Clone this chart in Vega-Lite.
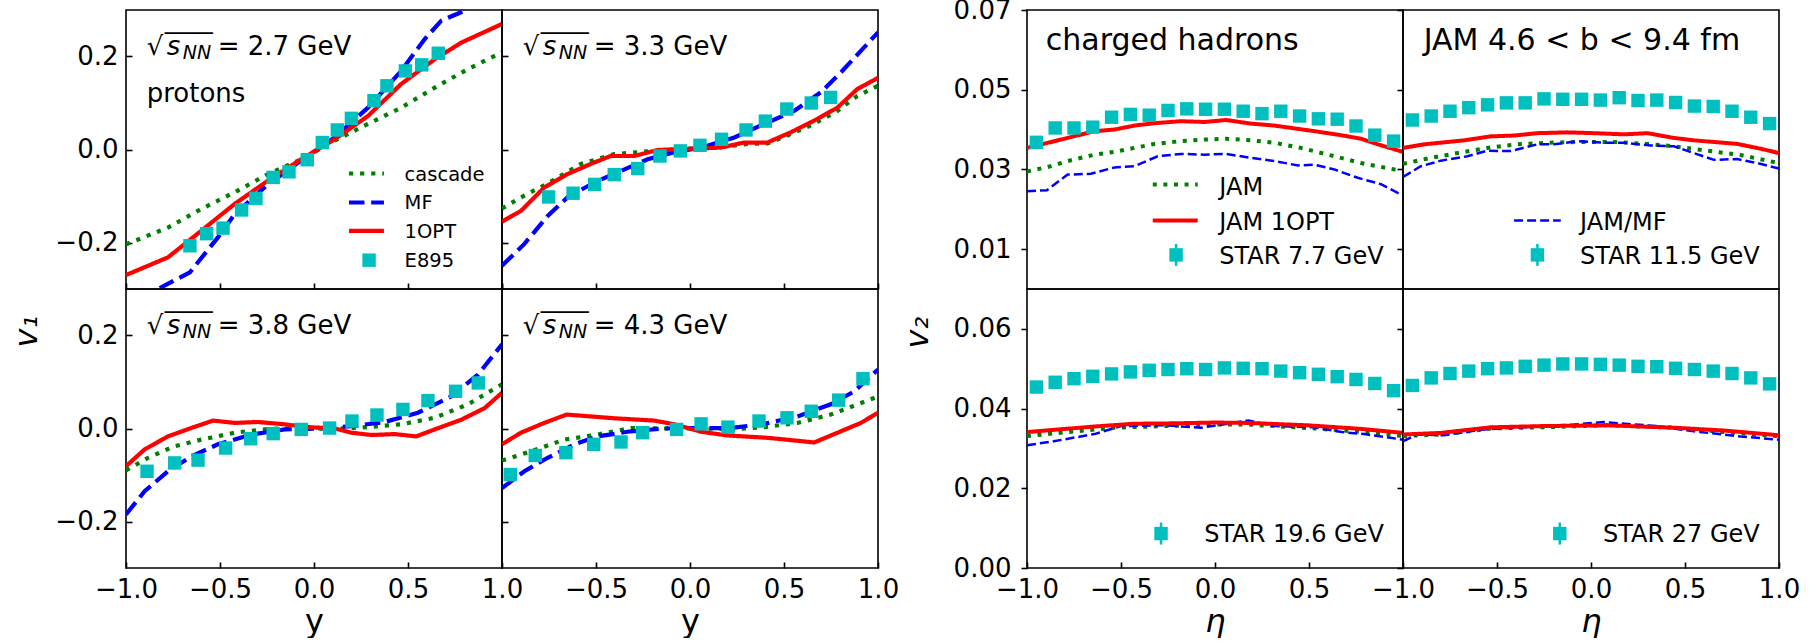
{
"$schema": "https://vega.github.io/schema/vega-lite/v6.json",
"background": "white",
"padding": {"left": 9, "top": -4, "right": 10, "bottom": 0},
"config": {
 "view": {"stroke": "black", "strokeWidth": 1.6},
 "axis": {"grid": false, "domain": false, "labelFlush": false, "labelOverlap": false, "tickColor": "black", "tickWidth": 1.6, "labelColor": "black", "labelFont": "DejaVu Sans", "labelFontSize": 26, "titleFont": "DejaVu Sans", "titleFontSize": 32, "titleFontWeight": "normal", "titleColor": "black", "titlePadding": 4},
 "text": {"font": "DejaVu Sans"}
},
"datasets": {
 "curves": [
  {"p":"2.7","s":"cascade","x":-1,"y":-0.204},{"p":"2.7","s":"cascade","x":-0.777,"y":-0.168},{"p":"2.7","s":"cascade","x":-0.6,"y":-0.128},{"p":"2.7","s":"cascade","x":-0.422,"y":-0.092},{"p":"2.7","s":"cascade","x":-0.245,"y":-0.053},{"p":"2.7","s":"cascade","x":-0.068,"y":-0.021},{"p":"2.7","s":"cascade","x":0.11,"y":0.019},{"p":"2.7","s":"cascade","x":0.287,"y":0.055},{"p":"2.7","s":"cascade","x":0.464,"y":0.09},{"p":"2.7","s":"cascade","x":0.642,"y":0.133},{"p":"2.7","s":"cascade","x":0.819,"y":0.173},{"p":"2.7","s":"cascade","x":1,"y":0.209},
  {"p":"2.7","s":"MF","x":-1,"y":-0.36},{"p":"2.7","s":"MF","x":-0.83,"y":-0.3},{"p":"2.7","s":"MF","x":-0.66,"y":-0.264},{"p":"2.7","s":"MF","x":-0.511,"y":-0.189},{"p":"2.7","s":"MF","x":-0.422,"y":-0.139},{"p":"2.7","s":"MF","x":-0.245,"y":-0.075},{"p":"2.7","s":"MF","x":-0.068,"y":-0.024},{"p":"2.7","s":"MF","x":0.11,"y":0.026},{"p":"2.7","s":"MF","x":0.287,"y":0.09},{"p":"2.7","s":"MF","x":0.464,"y":0.169},{"p":"2.7","s":"MF","x":0.588,"y":0.237},{"p":"2.7","s":"MF","x":0.677,"y":0.277},{"p":"2.7","s":"MF","x":0.81,"y":0.3},{"p":"2.7","s":"MF","x":1,"y":0.34},
  {"p":"2.7","s":"1OPT","x":-1,"y":-0.27},{"p":"2.7","s":"1OPT","x":-0.777,"y":-0.232},{"p":"2.7","s":"1OPT","x":-0.6,"y":-0.175},{"p":"2.7","s":"1OPT","x":-0.422,"y":-0.117},{"p":"2.7","s":"1OPT","x":-0.245,"y":-0.067},{"p":"2.7","s":"1OPT","x":-0.068,"y":-0.021},{"p":"2.7","s":"1OPT","x":0.11,"y":0.022},{"p":"2.7","s":"1OPT","x":0.287,"y":0.072},{"p":"2.7","s":"1OPT","x":0.464,"y":0.141},{"p":"2.7","s":"1OPT","x":0.642,"y":0.194},{"p":"2.7","s":"1OPT","x":0.784,"y":0.23},{"p":"2.7","s":"1OPT","x":1,"y":0.27},
  {"p":"3.3","s":"cascade","x":-1,"y":-0.127},{"p":"3.3","s":"cascade","x":-0.899,"y":-0.103},{"p":"3.3","s":"cascade","x":-0.757,"y":-0.073},{"p":"3.3","s":"cascade","x":-0.58,"y":-0.031},{"p":"3.3","s":"cascade","x":-0.403,"y":-0.01},{"p":"3.3","s":"cascade","x":-0.225,"y":-0.004},{"p":"3.3","s":"cascade","x":-0.048,"y":0.001},{"p":"3.3","s":"cascade","x":0.129,"y":0.004},{"p":"3.3","s":"cascade","x":0.307,"y":0.012},{"p":"3.3","s":"cascade","x":0.412,"y":0.013},{"p":"3.3","s":"cascade","x":0.518,"y":0.03},{"p":"3.3","s":"cascade","x":0.66,"y":0.055},{"p":"3.3","s":"cascade","x":0.784,"y":0.083},{"p":"3.3","s":"cascade","x":0.89,"y":0.115},{"p":"3.3","s":"cascade","x":1,"y":0.137},
  {"p":"3.3","s":"MF","x":-1,"y":-0.25},{"p":"3.3","s":"MF","x":-0.881,"y":-0.203},{"p":"3.3","s":"MF","x":-0.757,"y":-0.143},{"p":"3.3","s":"MF","x":-0.652,"y":-0.103},{"p":"3.3","s":"MF","x":-0.509,"y":-0.071},{"p":"3.3","s":"MF","x":-0.367,"y":-0.046},{"p":"3.3","s":"MF","x":-0.225,"y":-0.021},{"p":"3.3","s":"MF","x":-0.083,"y":-0.006},{"p":"3.3","s":"MF","x":0.058,"y":0.004},{"p":"3.3","s":"MF","x":0.236,"y":0.026},{"p":"3.3","s":"MF","x":0.395,"y":0.055},{"p":"3.3","s":"MF","x":0.554,"y":0.083},{"p":"3.3","s":"MF","x":0.696,"y":0.123},{"p":"3.3","s":"MF","x":0.803,"y":0.166},{"p":"3.3","s":"MF","x":0.909,"y":0.212},{"p":"3.3","s":"MF","x":1,"y":0.252},
  {"p":"3.3","s":"1OPT","x":-1,"y":-0.155},{"p":"3.3","s":"1OPT","x":-0.899,"y":-0.132},{"p":"3.3","s":"1OPT","x":-0.776,"y":-0.082},{"p":"3.3","s":"1OPT","x":-0.652,"y":-0.053},{"p":"3.3","s":"1OPT","x":-0.528,"y":-0.031},{"p":"3.3","s":"1OPT","x":-0.422,"y":-0.014},{"p":"3.3","s":"1OPT","x":-0.296,"y":-0.014},{"p":"3.3","s":"1OPT","x":-0.172,"y":-0.001},{"p":"3.3","s":"1OPT","x":-0.048,"y":0.001},{"p":"3.3","s":"1OPT","x":0.163,"y":0.004},{"p":"3.3","s":"1OPT","x":0.287,"y":0.015},{"p":"3.3","s":"1OPT","x":0.412,"y":0.015},{"p":"3.3","s":"1OPT","x":0.536,"y":0.037},{"p":"3.3","s":"1OPT","x":0.66,"y":0.062},{"p":"3.3","s":"1OPT","x":0.784,"y":0.09},{"p":"3.3","s":"1OPT","x":0.89,"y":0.13},{"p":"3.3","s":"1OPT","x":1,"y":0.154},
  {"p":"3.8","s":"cascade","x":-1,"y":-0.09},{"p":"3.8","s":"cascade","x":-0.883,"y":-0.063},{"p":"3.8","s":"cascade","x":-0.741,"y":-0.038},{"p":"3.8","s":"cascade","x":-0.6,"y":-0.024},{"p":"3.8","s":"cascade","x":-0.422,"y":-0.009},{"p":"3.8","s":"cascade","x":-0.245,"y":-0.001},{"p":"3.8","s":"cascade","x":-0.068,"y":0.001},{"p":"3.8","s":"cascade","x":0.11,"y":-0.001},{"p":"3.8","s":"cascade","x":0.287,"y":0.003},{"p":"3.8","s":"cascade","x":0.464,"y":0.009},{"p":"3.8","s":"cascade","x":0.642,"y":0.023},{"p":"3.8","s":"cascade","x":0.819,"y":0.052},{"p":"3.8","s":"cascade","x":1,"y":0.095},
  {"p":"3.8","s":"MF","x":-1,"y":-0.185},{"p":"3.8","s":"MF","x":-0.901,"y":-0.135},{"p":"3.8","s":"MF","x":-0.777,"y":-0.092},{"p":"3.8","s":"MF","x":-0.653,"y":-0.06},{"p":"3.8","s":"MF","x":-0.511,"y":-0.034},{"p":"3.8","s":"MF","x":-0.333,"y":-0.013},{"p":"3.8","s":"MF","x":-0.156,"y":-0.002},{"p":"3.8","s":"MF","x":0.021,"y":0.0},{"p":"3.8","s":"MF","x":0.198,"y":0.005},{"p":"3.8","s":"MF","x":0.376,"y":0.014},{"p":"3.8","s":"MF","x":0.553,"y":0.034},{"p":"3.8","s":"MF","x":0.73,"y":0.069},{"p":"3.8","s":"MF","x":0.872,"y":0.116},{"p":"3.8","s":"MF","x":1,"y":0.181},
  {"p":"3.8","s":"1OPT","x":-1,"y":-0.081},{"p":"3.8","s":"1OPT","x":-0.901,"y":-0.045},{"p":"3.8","s":"1OPT","x":-0.777,"y":-0.017},{"p":"3.8","s":"1OPT","x":-0.653,"y":0.001},{"p":"3.8","s":"1OPT","x":-0.537,"y":0.017},{"p":"3.8","s":"1OPT","x":-0.422,"y":0.012},{"p":"3.8","s":"1OPT","x":-0.298,"y":0.014},{"p":"3.8","s":"1OPT","x":-0.156,"y":0.009},{"p":"3.8","s":"1OPT","x":-0.032,"y":0.003},{"p":"3.8","s":"1OPT","x":0.11,"y":0.0},{"p":"3.8","s":"1OPT","x":0.198,"y":-0.009},{"p":"3.8","s":"1OPT","x":0.305,"y":-0.014},{"p":"3.8","s":"1OPT","x":0.429,"y":-0.012},{"p":"3.8","s":"1OPT","x":0.544,"y":-0.017},{"p":"3.8","s":"1OPT","x":0.642,"y":-0.002},{"p":"3.8","s":"1OPT","x":0.784,"y":0.019},{"p":"3.8","s":"1OPT","x":0.908,"y":0.044},{"p":"3.8","s":"1OPT","x":1,"y":0.077},
  {"p":"4.3","s":"cascade","x":-1,"y":-0.069},{"p":"4.3","s":"cascade","x":-0.846,"y":-0.049},{"p":"4.3","s":"cascade","x":-0.669,"y":-0.024},{"p":"4.3","s":"cascade","x":-0.491,"y":-0.013},{"p":"4.3","s":"cascade","x":-0.314,"y":0.001},{"p":"4.3","s":"cascade","x":-0.137,"y":0.0},{"p":"4.3","s":"cascade","x":0.02,"y":0.001},{"p":"4.3","s":"cascade","x":0.218,"y":-0.002},{"p":"4.3","s":"cascade","x":0.395,"y":0.003},{"p":"4.3","s":"cascade","x":0.572,"y":0.012},{"p":"4.3","s":"cascade","x":0.749,"y":0.03},{"p":"4.3","s":"cascade","x":1,"y":0.069},
  {"p":"4.3","s":"MF","x":-1,"y":-0.128},{"p":"4.3","s":"MF","x":-0.881,"y":-0.092},{"p":"4.3","s":"MF","x":-0.757,"y":-0.063},{"p":"4.3","s":"MF","x":-0.615,"y":-0.034},{"p":"4.3","s":"MF","x":-0.491,"y":-0.017},{"p":"4.3","s":"MF","x":-0.314,"y":-0.006},{"p":"4.3","s":"MF","x":-0.137,"y":0.0},{"p":"4.3","s":"MF","x":0.02,"y":0.001},{"p":"4.3","s":"MF","x":0.218,"y":0.001},{"p":"4.3","s":"MF","x":0.395,"y":0.01},{"p":"4.3","s":"MF","x":0.572,"y":0.026},{"p":"4.3","s":"MF","x":0.749,"y":0.052},{"p":"4.3","s":"MF","x":0.874,"y":0.08},{"p":"4.3","s":"MF","x":1,"y":0.127},
  {"p":"4.3","s":"1OPT","x":-1,"y":-0.034},{"p":"4.3","s":"1OPT","x":-0.899,"y":-0.009},{"p":"4.3","s":"1OPT","x":-0.775,"y":0.012},{"p":"4.3","s":"1OPT","x":-0.656,"y":0.03},{"p":"4.3","s":"1OPT","x":-0.403,"y":0.022},{"p":"4.3","s":"1OPT","x":-0.19,"y":0.017},{"p":"4.3","s":"1OPT","x":-0.083,"y":0.009},{"p":"4.3","s":"1OPT","x":0.059,"y":-0.007},{"p":"4.3","s":"1OPT","x":0.2,"y":-0.015},{"p":"4.3","s":"1OPT","x":0.413,"y":-0.02},{"p":"4.3","s":"1OPT","x":0.661,"y":-0.03},{"p":"4.3","s":"1OPT","x":0.785,"y":-0.009},{"p":"4.3","s":"1OPT","x":0.909,"y":0.012},{"p":"4.3","s":"1OPT","x":1,"y":0.034},
  {"p":"7.7","s":"JAM","x":-1,"y":0.0295},{"p":"7.7","s":"JAM","x":-0.89,"y":0.0306},{"p":"7.7","s":"JAM","x":-0.784,"y":0.0321},{"p":"7.7","s":"JAM","x":-0.642,"y":0.0337},{"p":"7.7","s":"JAM","x":-0.535,"y":0.0344},{"p":"7.7","s":"JAM","x":-0.429,"y":0.0354},{"p":"7.7","s":"JAM","x":-0.322,"y":0.0364},{"p":"7.7","s":"JAM","x":-0.181,"y":0.0371},{"p":"7.7","s":"JAM","x":-0.057,"y":0.0375},{"p":"7.7","s":"JAM","x":0.059,"y":0.0377},{"p":"7.7","s":"JAM","x":0.191,"y":0.0373},{"p":"7.7","s":"JAM","x":0.316,"y":0.0367},{"p":"7.7","s":"JAM","x":0.457,"y":0.0354},{"p":"7.7","s":"JAM","x":0.635,"y":0.0333},{"p":"7.7","s":"JAM","x":0.777,"y":0.0316},{"p":"7.7","s":"JAM","x":0.954,"y":0.03},{"p":"7.7","s":"JAM","x":1,"y":0.0297},
  {"p":"7.7","s":"JAM/MF","x":-1,"y":0.0245},{"p":"7.7","s":"JAM/MF","x":-0.894,"y":0.0248},{"p":"7.7","s":"JAM/MF","x":-0.784,"y":0.0287},{"p":"7.7","s":"JAM/MF","x":-0.66,"y":0.0289},{"p":"7.7","s":"JAM/MF","x":-0.535,"y":0.0305},{"p":"7.7","s":"JAM/MF","x":-0.429,"y":0.0308},{"p":"7.7","s":"JAM/MF","x":-0.305,"y":0.0333},{"p":"7.7","s":"JAM/MF","x":-0.181,"y":0.0339},{"p":"7.7","s":"JAM/MF","x":-0.057,"y":0.0337},{"p":"7.7","s":"JAM/MF","x":0.059,"y":0.0339},{"p":"7.7","s":"JAM/MF","x":0.191,"y":0.0329},{"p":"7.7","s":"JAM/MF","x":0.316,"y":0.0321},{"p":"7.7","s":"JAM/MF","x":0.441,"y":0.031},{"p":"7.7","s":"JAM/MF","x":0.529,"y":0.0312},{"p":"7.7","s":"JAM/MF","x":0.635,"y":0.03},{"p":"7.7","s":"JAM/MF","x":0.759,"y":0.0279},{"p":"7.7","s":"JAM/MF","x":0.883,"y":0.0263},{"p":"7.7","s":"JAM/MF","x":0.972,"y":0.0241},{"p":"7.7","s":"JAM/MF","x":1,"y":0.0235},
  {"p":"7.7","s":"JAM 1OPT","x":-1,"y":0.0354},{"p":"7.7","s":"JAM 1OPT","x":-0.784,"y":0.0379},{"p":"7.7","s":"JAM 1OPT","x":-0.642,"y":0.0396},{"p":"7.7","s":"JAM 1OPT","x":-0.535,"y":0.04},{"p":"7.7","s":"JAM 1OPT","x":-0.429,"y":0.041},{"p":"7.7","s":"JAM 1OPT","x":-0.322,"y":0.0416},{"p":"7.7","s":"JAM 1OPT","x":-0.181,"y":0.0421},{"p":"7.7","s":"JAM 1OPT","x":-0.057,"y":0.0419},{"p":"7.7","s":"JAM 1OPT","x":0.059,"y":0.0424},{"p":"7.7","s":"JAM 1OPT","x":0.191,"y":0.0415},{"p":"7.7","s":"JAM 1OPT","x":0.316,"y":0.041},{"p":"7.7","s":"JAM 1OPT","x":0.529,"y":0.0396},{"p":"7.7","s":"JAM 1OPT","x":0.67,"y":0.0386},{"p":"7.7","s":"JAM 1OPT","x":0.777,"y":0.0377},{"p":"7.7","s":"JAM 1OPT","x":0.866,"y":0.0363},{"p":"7.7","s":"JAM 1OPT","x":1,"y":0.0344},
  {"p":"11.5","s":"JAM","x":-1,"y":0.0314},{"p":"11.5","s":"JAM","x":-0.852,"y":0.0329},{"p":"11.5","s":"JAM","x":-0.71,"y":0.0341},{"p":"11.5","s":"JAM","x":-0.551,"y":0.0354},{"p":"11.5","s":"JAM","x":-0.391,"y":0.0363},{"p":"11.5","s":"JAM","x":-0.232,"y":0.0367},{"p":"11.5","s":"JAM","x":-0.055,"y":0.0369},{"p":"11.5","s":"JAM","x":0.122,"y":0.0369},{"p":"11.5","s":"JAM","x":0.3,"y":0.0364},{"p":"11.5","s":"JAM","x":0.441,"y":0.0358},{"p":"11.5","s":"JAM","x":0.618,"y":0.0347},{"p":"11.5","s":"JAM","x":0.796,"y":0.0336},{"p":"11.5","s":"JAM","x":1,"y":0.0316},
  {"p":"11.5","s":"JAM/MF","x":-1,"y":0.0281},{"p":"11.5","s":"JAM/MF","x":-0.905,"y":0.0308},{"p":"11.5","s":"JAM/MF","x":-0.799,"y":0.0322},{"p":"11.5","s":"JAM/MF","x":-0.657,"y":0.0333},{"p":"11.5","s":"JAM/MF","x":-0.551,"y":0.0347},{"p":"11.5","s":"JAM/MF","x":-0.427,"y":0.0346},{"p":"11.5","s":"JAM/MF","x":-0.285,"y":0.0363},{"p":"11.5","s":"JAM/MF","x":-0.196,"y":0.0363},{"p":"11.5","s":"JAM/MF","x":-0.072,"y":0.0371},{"p":"11.5","s":"JAM/MF","x":0.069,"y":0.0367},{"p":"11.5","s":"JAM/MF","x":0.175,"y":0.0367},{"p":"11.5","s":"JAM/MF","x":0.317,"y":0.036},{"p":"11.5","s":"JAM/MF","x":0.441,"y":0.0358},{"p":"11.5","s":"JAM/MF","x":0.547,"y":0.0341},{"p":"11.5","s":"JAM/MF","x":0.654,"y":0.0324},{"p":"11.5","s":"JAM/MF","x":0.778,"y":0.0326},{"p":"11.5","s":"JAM/MF","x":0.884,"y":0.0316},{"p":"11.5","s":"JAM/MF","x":1,"y":0.0302},
  {"p":"11.5","s":"JAM 1OPT","x":-1,"y":0.0354},{"p":"11.5","s":"JAM 1OPT","x":-0.887,"y":0.0363},{"p":"11.5","s":"JAM 1OPT","x":-0.675,"y":0.0373},{"p":"11.5","s":"JAM 1OPT","x":-0.533,"y":0.0383},{"p":"11.5","s":"JAM 1OPT","x":-0.409,"y":0.0385},{"p":"11.5","s":"JAM 1OPT","x":-0.285,"y":0.0391},{"p":"11.5","s":"JAM 1OPT","x":-0.125,"y":0.0393},{"p":"11.5","s":"JAM 1OPT","x":0.016,"y":0.0391},{"p":"11.5","s":"JAM 1OPT","x":0.175,"y":0.0388},{"p":"11.5","s":"JAM 1OPT","x":0.3,"y":0.0391},{"p":"11.5","s":"JAM 1OPT","x":0.441,"y":0.0379},{"p":"11.5","s":"JAM 1OPT","x":0.547,"y":0.0373},{"p":"11.5","s":"JAM 1OPT","x":0.778,"y":0.0364},{"p":"11.5","s":"JAM 1OPT","x":0.902,"y":0.0352},{"p":"11.5","s":"JAM 1OPT","x":1,"y":0.0341},
  {"p":"19.6","s":"JAM","x":-1,"y":0.0331},{"p":"19.6","s":"JAM","x":-0.784,"y":0.0341},{"p":"19.6","s":"JAM","x":-0.535,"y":0.0352},{"p":"19.6","s":"JAM","x":-0.269,"y":0.0356},{"p":"19.6","s":"JAM","x":0.0,"y":0.036},{"p":"19.6","s":"JAM","x":0.177,"y":0.036},{"p":"19.6","s":"JAM","x":0.532,"y":0.035},{"p":"19.6","s":"JAM","x":0.795,"y":0.0341},{"p":"19.6","s":"JAM","x":1,"y":0.0331},
  {"p":"19.6","s":"JAM/MF","x":-1,"y":0.0308},{"p":"19.6","s":"JAM/MF","x":-0.858,"y":0.0318},{"p":"19.6","s":"JAM/MF","x":-0.642,"y":0.0336},{"p":"19.6","s":"JAM/MF","x":-0.5,"y":0.0356},{"p":"19.6","s":"JAM/MF","x":-0.269,"y":0.0358},{"p":"19.6","s":"JAM/MF","x":-0.075,"y":0.0352},{"p":"19.6","s":"JAM/MF","x":0.067,"y":0.0362},{"p":"19.6","s":"JAM/MF","x":0.177,"y":0.037},{"p":"19.6","s":"JAM/MF","x":0.319,"y":0.0356},{"p":"19.6","s":"JAM/MF","x":0.532,"y":0.0353},{"p":"19.6","s":"JAM/MF","x":0.674,"y":0.0341},{"p":"19.6","s":"JAM/MF","x":0.795,"y":0.0336},{"p":"19.6","s":"JAM/MF","x":1,"y":0.0322},
  {"p":"19.6","s":"JAM 1OPT","x":-1,"y":0.0341},{"p":"19.6","s":"JAM 1OPT","x":-0.642,"y":0.0355},{"p":"19.6","s":"JAM 1OPT","x":-0.429,"y":0.0362},{"p":"19.6","s":"JAM 1OPT","x":-0.216,"y":0.0363},{"p":"19.6","s":"JAM 1OPT","x":0.0,"y":0.0365},{"p":"19.6","s":"JAM 1OPT","x":0.177,"y":0.0364},{"p":"19.6","s":"JAM 1OPT","x":0.494,"y":0.0358},{"p":"19.6","s":"JAM 1OPT","x":0.777,"y":0.0349},{"p":"19.6","s":"JAM 1OPT","x":1,"y":0.0339},
  {"p":"27","s":"JAM","x":-1,"y":0.0331},{"p":"27","s":"JAM","x":-0.8,"y":0.0335},{"p":"27","s":"JAM","x":-0.533,"y":0.035},{"p":"27","s":"JAM","x":-0.267,"y":0.0353},{"p":"27","s":"JAM","x":0.087,"y":0.0358},{"p":"27","s":"JAM","x":0.441,"y":0.0352},{"p":"27","s":"JAM","x":0.707,"y":0.0341},{"p":"27","s":"JAM","x":1,"y":0.0331},
  {"p":"27","s":"JAM/MF","x":-1,"y":0.0318},{"p":"27","s":"JAM/MF","x":-0.923,"y":0.0335},{"p":"27","s":"JAM/MF","x":-0.781,"y":0.0333},{"p":"27","s":"JAM/MF","x":-0.586,"y":0.0347},{"p":"27","s":"JAM/MF","x":-0.356,"y":0.0353},{"p":"27","s":"JAM/MF","x":-0.09,"y":0.036},{"p":"27","s":"JAM/MF","x":0.069,"y":0.0366},{"p":"27","s":"JAM/MF","x":0.352,"y":0.0356},{"p":"27","s":"JAM/MF","x":0.547,"y":0.0343},{"p":"27","s":"JAM/MF","x":0.796,"y":0.033},{"p":"27","s":"JAM/MF","x":1,"y":0.0322},
  {"p":"27","s":"JAM 1OPT","x":-1,"y":0.0335},{"p":"27","s":"JAM 1OPT","x":-0.799,"y":0.0339},{"p":"27","s":"JAM 1OPT","x":-0.533,"y":0.0353},{"p":"27","s":"JAM 1OPT","x":-0.267,"y":0.0356},{"p":"27","s":"JAM 1OPT","x":0.087,"y":0.0358},{"p":"27","s":"JAM 1OPT","x":0.441,"y":0.0352},{"p":"27","s":"JAM 1OPT","x":0.707,"y":0.0345},{"p":"27","s":"JAM 1OPT","x":1,"y":0.0333}
 ],
 "pts": [
  {"p":"2.7","x":-0.66,"y":-0.207},{"p":"2.7","x":-0.571,"y":-0.181},{"p":"2.7","x":-0.484,"y":-0.169},{"p":"2.7","x":-0.385,"y":-0.13},{"p":"2.7","x":-0.309,"y":-0.105},{"p":"2.7","x":-0.217,"y":-0.06},{"p":"2.7","x":-0.133,"y":-0.048},{"p":"2.7","x":-0.036,"y":-0.022},{"p":"2.7","x":0.044,"y":0.015},{"p":"2.7","x":0.124,"y":0.042},{"p":"2.7","x":0.199,"y":0.067},{"p":"2.7","x":0.319,"y":0.105},{"p":"2.7","x":0.388,"y":0.137},{"p":"2.7","x":0.486,"y":0.169},{"p":"2.7","x":0.573,"y":0.182},{"p":"2.7","x":0.661,"y":0.207},
  {"p":"3.3","x":-0.752,"y":-0.102},{"p":"3.3","x":-0.622,"y":-0.094},{"p":"3.3","x":-0.507,"y":-0.075},{"p":"3.3","x":-0.403,"y":-0.054},{"p":"3.3","x":-0.278,"y":-0.041},{"p":"3.3","x":-0.16,"y":-0.014},{"p":"3.3","x":-0.051,"y":-0.003},{"p":"3.3","x":0.053,"y":0.009},{"p":"3.3","x":0.168,"y":0.022},{"p":"3.3","x":0.298,"y":0.042},{"p":"3.3","x":0.401,"y":0.061},{"p":"3.3","x":0.515,"y":0.087},{"p":"3.3","x":0.645,"y":0.1},{"p":"3.3","x":0.748,"y":0.112},
  {"p":"3.8","x":-0.888,"y":-0.092},{"p":"3.8","x":-0.741,"y":-0.074},{"p":"3.8","x":-0.617,"y":-0.068},{"p":"3.8","x":-0.47,"y":-0.042},{"p":"3.8","x":-0.337,"y":-0.022},{"p":"3.8","x":-0.217,"y":-0.011},{"p":"3.8","x":-0.068,"y":-0.002},{"p":"3.8","x":0.083,"y":0.001},{"p":"3.8","x":0.202,"y":0.016},{"p":"3.8","x":0.335,"y":0.029},{"p":"3.8","x":0.473,"y":0.041},{"p":"3.8","x":0.606,"y":0.06},{"p":"3.8","x":0.753,"y":0.08},{"p":"3.8","x":0.874,"y":0.098},
  {"p":"4.3","x":-0.956,"y":-0.099},{"p":"4.3","x":-0.823,"y":-0.058},{"p":"4.3","x":-0.66,"y":-0.052},{"p":"4.3","x":-0.512,"y":-0.034},{"p":"4.3","x":-0.367,"y":-0.029},{"p":"4.3","x":-0.252,"y":-0.009},{"p":"4.3","x":-0.071,"y":-0.002},{"p":"4.3","x":0.059,"y":0.01},{"p":"4.3","x":0.202,"y":0.003},{"p":"4.3","x":0.367,"y":0.016},{"p":"4.3","x":0.516,"y":0.023},{"p":"4.3","x":0.645,"y":0.037},{"p":"4.3","x":0.791,"y":0.061},{"p":"4.3","x":0.92,"y":0.107},
  {"p":"7.7","x":-0.95,"y":0.0368},{"p":"7.7","x":-0.85,"y":0.0404},{"p":"7.7","x":-0.75,"y":0.0404},{"p":"7.7","x":-0.65,"y":0.0406},{"p":"7.7","x":-0.55,"y":0.0431},{"p":"7.7","x":-0.45,"y":0.0438},{"p":"7.7","x":-0.35,"y":0.0436},{"p":"7.7","x":-0.25,"y":0.0448},{"p":"7.7","x":-0.15,"y":0.0452},{"p":"7.7","x":-0.05,"y":0.0451},{"p":"7.7","x":0.05,"y":0.0451},{"p":"7.7","x":0.15,"y":0.0446},{"p":"7.7","x":0.25,"y":0.044},{"p":"7.7","x":0.35,"y":0.0446},{"p":"7.7","x":0.45,"y":0.0434},{"p":"7.7","x":0.55,"y":0.0427},{"p":"7.7","x":0.65,"y":0.0426},{"p":"7.7","x":0.75,"y":0.0409},{"p":"7.7","x":0.85,"y":0.0386},{"p":"7.7","x":0.95,"y":0.0371},
  {"p":"11.5","x":-0.95,"y":0.0424},{"p":"11.5","x":-0.85,"y":0.0434},{"p":"11.5","x":-0.75,"y":0.0446},{"p":"11.5","x":-0.65,"y":0.0455},{"p":"11.5","x":-0.55,"y":0.0462},{"p":"11.5","x":-0.45,"y":0.0467},{"p":"11.5","x":-0.35,"y":0.0467},{"p":"11.5","x":-0.25,"y":0.0477},{"p":"11.5","x":-0.15,"y":0.0476},{"p":"11.5","x":-0.05,"y":0.0476},{"p":"11.5","x":0.05,"y":0.0474},{"p":"11.5","x":0.15,"y":0.048},{"p":"11.5","x":0.25,"y":0.0473},{"p":"11.5","x":0.35,"y":0.0474},{"p":"11.5","x":0.45,"y":0.0468},{"p":"11.5","x":0.55,"y":0.0459},{"p":"11.5","x":0.65,"y":0.0458},{"p":"11.5","x":0.75,"y":0.0446},{"p":"11.5","x":0.85,"y":0.0431},{"p":"11.5","x":0.95,"y":0.0415},
  {"p":"19.6","x":-0.95,"y":0.0454},{"p":"19.6","x":-0.85,"y":0.0466},{"p":"19.6","x":-0.75,"y":0.0475},{"p":"19.6","x":-0.65,"y":0.0481},{"p":"19.6","x":-0.55,"y":0.0487},{"p":"19.6","x":-0.45,"y":0.0492},{"p":"19.6","x":-0.35,"y":0.0496},{"p":"19.6","x":-0.25,"y":0.0498},{"p":"19.6","x":-0.15,"y":0.05},{"p":"19.6","x":-0.05,"y":0.0498},{"p":"19.6","x":0.05,"y":0.0502},{"p":"19.6","x":0.15,"y":0.0501},{"p":"19.6","x":0.25,"y":0.05},{"p":"19.6","x":0.35,"y":0.0494},{"p":"19.6","x":0.45,"y":0.049},{"p":"19.6","x":0.55,"y":0.0486},{"p":"19.6","x":0.65,"y":0.048},{"p":"19.6","x":0.75,"y":0.0473},{"p":"19.6","x":0.85,"y":0.0463},{"p":"19.6","x":0.95,"y":0.0445},
  {"p":"27","x":-0.95,"y":0.0458},{"p":"27","x":-0.85,"y":0.0477},{"p":"27","x":-0.75,"y":0.0488},{"p":"27","x":-0.65,"y":0.0494},{"p":"27","x":-0.55,"y":0.05},{"p":"27","x":-0.45,"y":0.0502},{"p":"27","x":-0.35,"y":0.0506},{"p":"27","x":-0.25,"y":0.0509},{"p":"27","x":-0.15,"y":0.0512},{"p":"27","x":-0.05,"y":0.0512},{"p":"27","x":0.05,"y":0.0511},{"p":"27","x":0.15,"y":0.0509},{"p":"27","x":0.25,"y":0.0506},{"p":"27","x":0.35,"y":0.0505},{"p":"27","x":0.45,"y":0.0501},{"p":"27","x":0.55,"y":0.0498},{"p":"27","x":0.65,"y":0.0494},{"p":"27","x":0.75,"y":0.0488},{"p":"27","x":0.85,"y":0.0477},{"p":"27","x":0.95,"y":0.0462}
 ],
 "energy": [
  {"p":"2.7","x":-0.89,"y":0.203,"t":"= 2.7 GeV"},
  {"p":"3.3","x":-0.89,"y":0.203,"t":"= 3.3 GeV"},
  {"p":"3.8","x":-0.89,"y":0.203,"t":"= 3.8 GeV"},
  {"p":"4.3","x":-0.89,"y":0.203,"t":"= 4.3 GeV"}
 ],
 "notes": [
  {"p":"2.7","x":-0.89,"y":0.103,"t":"protons"},
  {"p":"7.7","x":-0.9,"y":0.0599,"t":"charged hadrons"},
  {"p":"11.5","x":-0.89,"y":0.0599,"t":"JAM 4.6 < b < 9.4 fm"}
 ],
 "leglines": [
  {"p":"2.7","s":"cascade","x":0.186,"x2":0.372,"y":-0.0516},
  {"p":"2.7","s":"MF","x":0.186,"x2":0.372,"y":-0.114},
  {"p":"2.7","s":"1OPT","x":0.186,"x2":0.372,"y":-0.175},
  {"p":"7.7","s":"JAM","x":-0.331,"x2":-0.092,"y":0.0262},
  {"p":"7.7","s":"JAM 1OPT","x":-0.331,"x2":-0.092,"y":0.0172},
  {"p":"11.5","s":"JAM/MF","x":-0.409,"x2":-0.161,"y":0.0172}
 ],
 "legsq": [
  {"p":"2.7","x":0.293,"y":-0.238},
  {"p":"7.7","x":-0.207,"y":0.00856},
  {"p":"11.5","x":-0.285,"y":0.00856},
  {"p":"19.6","x":-0.287,"y":0.00864},
  {"p":"27","x":-0.166,"y":0.00864}
 ],
 "leglab": [
  {"p":"2.7","x":0.482,"y":-0.0673,"t":"cascade"},
  {"p":"2.7","x":0.482,"y":-0.128,"t":"MF"},
  {"p":"2.7","x":0.482,"y":-0.191,"t":"1OPT"},
  {"p":"2.7","x":0.482,"y":-0.252,"t":"E895"},
  {"p":"7.7","x":0.023,"y":0.0237,"t":"JAM"},
  {"p":"7.7","x":0.023,"y":0.0149,"t":"JAM 1OPT"},
  {"p":"7.7","x":0.023,"y":0.0063,"t":"STAR 7.7 GeV"},
  {"p":"11.5","x":-0.058,"y":0.0149,"t":"JAM/MF"},
  {"p":"11.5","x":-0.058,"y":0.0063,"t":"STAR 11.5 GeV"},
  {"p":"19.6","x":-0.057,"y":0.00654,"t":"STAR 19.6 GeV"},
  {"p":"27","x":0.064,"y":0.00654,"t":"STAR 27 GeV"}
 ]
},
"bounds": "flush",
"align": "each",
"spacing": 0,
"columns": 5,
"concat": [
   {"width": 376, "height": 279,
    "encoding": {
     "x": {"field": "x", "type": "quantitative", "scale": {"domain": [-1, 1], "nice": false, "zero": false}, "axis": {"values": [-1, -0.5, 0, 0.5, 1], "labels": false, "tickSize": -6, "title": null}},
     "y": {"field": "y", "type": "quantitative", "scale": {"domain": [-0.3, 0.3], "nice": false, "zero": false}, "axis": {"values": [-0.2, 0, 0.2], "format": ".1f", "tickSize": -6, "labelPadding": 14, "title": null}}
    },
    "layer": [
     {"data": {"name": "curves"}, "transform": [{"filter": "datum.p=='2.7'"}], "mark": {"type": "line", "clip": true, "strokeWidth": 4.2}, "encoding": {"color": {"field": "s", "type": "nominal", "scale": {"domain": ["cascade","MF","1OPT","JAM","JAM/MF","JAM 1OPT"], "range": ["#008000","#0000ff","#ff0000","#008000","#0000ff","#ff0000"]}, "legend": null}, "strokeDash": {"field": "s", "type": "nominal", "scale": {"domain": ["cascade","MF","1OPT","JAM","JAM/MF","JAM 1OPT"], "range": [[4.2,6.9],[15.5,6.7],[1,0],[4,6.6],[9,4],[1,0]]}, "legend": null}}},
     {"data": {"name": "pts"}, "transform": [{"filter": "datum.p=='2.7'"}], "mark": {"type": "point", "shape": "square", "filled": true, "size": 180, "color": "#00bfbf", "opacity": 1}},
     {"data": {"name": "energy"}, "transform": [{"filter": "datum.p=='2.7'"}], "mark": {"type": "text", "text": "√", "align": "left", "baseline": "alphabetic", "fontSize": 26, "color": "black"}},
     {"data": {"name": "energy"}, "transform": [{"filter": "datum.p=='2.7'"}], "mark": {"type": "text", "text": "s", "fontStyle": "italic", "align": "left", "baseline": "alphabetic", "fontSize": 26, "dx": 20, "color": "black"}},
     {"data": {"name": "energy"}, "transform": [{"filter": "datum.p=='2.7'"}], "mark": {"type": "text", "text": "NN", "fontStyle": "italic", "align": "left", "baseline": "alphabetic", "fontSize": 19, "dx": 36, "dy": 3.5, "color": "black"}},
     {"data": {"name": "energy"}, "transform": [{"filter": "datum.p=='2.7'"}], "mark": {"type": "text", "text": "‾‾‾‾", "align": "left", "baseline": "alphabetic", "fontSize": 24, "dx": 18, "dy": -4, "color": "black"}},
     {"data": {"name": "energy"}, "transform": [{"filter": "datum.p=='2.7'"}], "mark": {"type": "text", "align": "left", "baseline": "alphabetic", "fontSize": 26, "dx": 71, "color": "black"}, "encoding": {"text": {"field": "t"}}},
     {"data": {"name": "notes"}, "transform": [{"filter": "datum.p=='2.7'"}], "mark": {"type": "text", "align": "left", "baseline": "alphabetic", "fontSize": 26, "color": "black"}, "encoding": {"text": {"field": "t"}}},
     {"data": {"name": "leglines"}, "transform": [{"filter": "datum.p=='2.7'"}], "mark": {"type": "rule", "strokeWidth": 4.2}, "encoding": {"x2": {"field": "x2"}, "color": {"field": "s", "type": "nominal", "scale": {"domain": ["cascade","MF","1OPT","JAM","JAM/MF","JAM 1OPT"], "range": ["#008000","#0000ff","#ff0000","#008000","#0000ff","#ff0000"]}, "legend": null}, "strokeDash": {"field": "s", "type": "nominal", "scale": {"domain": ["cascade","MF","1OPT","JAM","JAM/MF","JAM 1OPT"], "range": [[4.2,6.9],[15.5,6.7],[1,0],[4,6.6],[9,4],[1,0]]}, "legend": null}}},
     {"data": {"name": "legsq"}, "transform": [{"filter": "datum.p=='2.7'"}], "mark": {"type": "point", "shape": "square", "filled": true, "size": 180, "color": "#00bfbf", "opacity": 1}},
     {"data": {"name": "leglab"}, "transform": [{"filter": "datum.p=='2.7'"}], "mark": {"type": "text", "align": "left", "baseline": "alphabetic", "fontSize": 19.5, "color": "black"}, "encoding": {"text": {"field": "t"}}}
    ]},
   {"width": 376, "height": 279,
    "encoding": {
     "x": {"field": "x", "type": "quantitative", "scale": {"domain": [-1, 1], "nice": false, "zero": false}, "axis": {"values": [-1, -0.5, 0, 0.5, 1], "labels": false, "tickSize": -6, "title": null}},
     "y": {"field": "y", "type": "quantitative", "scale": {"domain": [-0.3, 0.3], "nice": false, "zero": false}, "axis": {"values": [-0.2, 0, 0.2], "labels": false, "tickSize": -6, "title": null}}
    },
    "layer": [
     {"data": {"name": "curves"}, "transform": [{"filter": "datum.p=='3.3'"}], "mark": {"type": "line", "clip": true, "strokeWidth": 4.2}, "encoding": {"color": {"field": "s", "type": "nominal", "scale": {"domain": ["cascade","MF","1OPT","JAM","JAM/MF","JAM 1OPT"], "range": ["#008000","#0000ff","#ff0000","#008000","#0000ff","#ff0000"]}, "legend": null}, "strokeDash": {"field": "s", "type": "nominal", "scale": {"domain": ["cascade","MF","1OPT","JAM","JAM/MF","JAM 1OPT"], "range": [[4.2,6.9],[15.5,6.7],[1,0],[4,6.6],[9,4],[1,0]]}, "legend": null}}},
     {"data": {"name": "pts"}, "transform": [{"filter": "datum.p=='3.3'"}], "mark": {"type": "point", "shape": "square", "filled": true, "size": 180, "color": "#00bfbf", "opacity": 1}},
     {"data": {"name": "energy"}, "transform": [{"filter": "datum.p=='3.3'"}], "mark": {"type": "text", "text": "√", "align": "left", "baseline": "alphabetic", "fontSize": 26, "color": "black"}},
     {"data": {"name": "energy"}, "transform": [{"filter": "datum.p=='3.3'"}], "mark": {"type": "text", "text": "s", "fontStyle": "italic", "align": "left", "baseline": "alphabetic", "fontSize": 26, "dx": 20, "color": "black"}},
     {"data": {"name": "energy"}, "transform": [{"filter": "datum.p=='3.3'"}], "mark": {"type": "text", "text": "NN", "fontStyle": "italic", "align": "left", "baseline": "alphabetic", "fontSize": 19, "dx": 36, "dy": 3.5, "color": "black"}},
     {"data": {"name": "energy"}, "transform": [{"filter": "datum.p=='3.3'"}], "mark": {"type": "text", "text": "‾‾‾‾", "align": "left", "baseline": "alphabetic", "fontSize": 24, "dx": 18, "dy": -4, "color": "black"}},
     {"data": {"name": "energy"}, "transform": [{"filter": "datum.p=='3.3'"}], "mark": {"type": "text", "align": "left", "baseline": "alphabetic", "fontSize": 26, "dx": 71, "color": "black"}, "encoding": {"text": {"field": "t"}}}
    ]},
   {"width": 149, "height": 279, "view": {"stroke": null}, "data": {"values": []}, "mark": "point"},
   {"width": 376, "height": 279,
    "encoding": {
     "x": {"field": "x", "type": "quantitative", "scale": {"domain": [-1, 1], "nice": false, "zero": false}, "axis": null},
     "y": {"field": "y", "type": "quantitative", "scale": {"domain": [0, 0.07], "nice": false, "zero": false}, "axis": {"values": [0.01, 0.03, 0.05, 0.07], "format": ".2f", "tickSize": 6, "labelPadding": 10, "title": null}}
    },
    "layer": [
     {"data": {"name": "curves"}, "transform": [{"filter": "datum.p=='7.7'"}], "mark": {"type": "line", "clip": true}, "encoding": {"color": {"field": "s", "type": "nominal", "scale": {"domain": ["cascade","MF","1OPT","JAM","JAM/MF","JAM 1OPT"], "range": ["#008000","#0000ff","#ff0000","#008000","#0000ff","#ff0000"]}, "legend": null}, "strokeDash": {"field": "s", "type": "nominal", "scale": {"domain": ["cascade","MF","1OPT","JAM","JAM/MF","JAM 1OPT"], "range": [[4.2,6.9],[15.5,6.7],[1,0],[4,6.6],[9,4],[1,0]]}, "legend": null}, "strokeWidth": {"condition": {"test": "datum.s=='JAM/MF'", "value": 2.5}, "value": 4}}},
     {"data": {"name": "pts"}, "transform": [{"filter": "datum.p=='7.7'"}], "mark": {"type": "point", "shape": "square", "filled": true, "size": 180, "color": "#00bfbf", "opacity": 1}},
     {"data": {"name": "notes"}, "transform": [{"filter": "datum.p=='7.7'"}], "mark": {"type": "text", "align": "left", "baseline": "alphabetic", "fontSize": 30, "color": "black"}, "encoding": {"text": {"field": "t"}}},
     {"data": {"name": "leglines"}, "transform": [{"filter": "datum.p=='7.7'"}], "mark": {"type": "rule"}, "encoding": {"x2": {"field": "x2"}, "color": {"field": "s", "type": "nominal", "scale": {"domain": ["cascade","MF","1OPT","JAM","JAM/MF","JAM 1OPT"], "range": ["#008000","#0000ff","#ff0000","#008000","#0000ff","#ff0000"]}, "legend": null}, "strokeDash": {"field": "s", "type": "nominal", "scale": {"domain": ["cascade","MF","1OPT","JAM","JAM/MF","JAM 1OPT"], "range": [[4.2,6.9],[15.5,6.7],[1,0],[4,6.6],[9,4],[1,0]]}, "legend": null}, "strokeWidth": {"condition": {"test": "datum.s=='JAM/MF'", "value": 2.5}, "value": 4}}},
     {"data": {"name": "legsq"}, "transform": [{"filter": "datum.p=='7.7'"}], "mark": {"type": "tick", "orient": "vertical", "size": 22, "thickness": 2.5, "color": "#00bfbf", "opacity": 1}},
     {"data": {"name": "legsq"}, "transform": [{"filter": "datum.p=='7.7'"}], "mark": {"type": "point", "shape": "square", "filled": true, "size": 180, "color": "#00bfbf", "opacity": 1}},
     {"data": {"name": "leglab"}, "transform": [{"filter": "datum.p=='7.7'"}], "mark": {"type": "text", "align": "left", "baseline": "alphabetic", "fontSize": 24, "color": "black"}, "encoding": {"text": {"field": "t"}}}
    ]},
   {"width": 376, "height": 279,
    "encoding": {
     "x": {"field": "x", "type": "quantitative", "scale": {"domain": [-1, 1], "nice": false, "zero": false}, "axis": null},
     "y": {"field": "y", "type": "quantitative", "scale": {"domain": [0, 0.07], "nice": false, "zero": false}, "axis": {"values": [0.01, 0.03, 0.05, 0.07], "labels": false, "tickSize": 6, "title": null}}
    },
    "layer": [
     {"data": {"name": "curves"}, "transform": [{"filter": "datum.p=='11.5'"}], "mark": {"type": "line", "clip": true}, "encoding": {"color": {"field": "s", "type": "nominal", "scale": {"domain": ["cascade","MF","1OPT","JAM","JAM/MF","JAM 1OPT"], "range": ["#008000","#0000ff","#ff0000","#008000","#0000ff","#ff0000"]}, "legend": null}, "strokeDash": {"field": "s", "type": "nominal", "scale": {"domain": ["cascade","MF","1OPT","JAM","JAM/MF","JAM 1OPT"], "range": [[4.2,6.9],[15.5,6.7],[1,0],[4,6.6],[9,4],[1,0]]}, "legend": null}, "strokeWidth": {"condition": {"test": "datum.s=='JAM/MF'", "value": 2.5}, "value": 4}}},
     {"data": {"name": "pts"}, "transform": [{"filter": "datum.p=='11.5'"}], "mark": {"type": "point", "shape": "square", "filled": true, "size": 180, "color": "#00bfbf", "opacity": 1}},
     {"data": {"name": "notes"}, "transform": [{"filter": "datum.p=='11.5'"}], "mark": {"type": "text", "align": "left", "baseline": "alphabetic", "fontSize": 30, "color": "black"}, "encoding": {"text": {"field": "t"}}},
     {"data": {"name": "leglines"}, "transform": [{"filter": "datum.p=='11.5'"}], "mark": {"type": "rule"}, "encoding": {"x2": {"field": "x2"}, "color": {"field": "s", "type": "nominal", "scale": {"domain": ["cascade","MF","1OPT","JAM","JAM/MF","JAM 1OPT"], "range": ["#008000","#0000ff","#ff0000","#008000","#0000ff","#ff0000"]}, "legend": null}, "strokeDash": {"field": "s", "type": "nominal", "scale": {"domain": ["cascade","MF","1OPT","JAM","JAM/MF","JAM 1OPT"], "range": [[4.2,6.9],[15.5,6.7],[1,0],[4,6.6],[9,4],[1,0]]}, "legend": null}, "strokeWidth": {"condition": {"test": "datum.s=='JAM/MF'", "value": 2.5}, "value": 4}}},
     {"data": {"name": "legsq"}, "transform": [{"filter": "datum.p=='11.5'"}], "mark": {"type": "tick", "orient": "vertical", "size": 22, "thickness": 2.5, "color": "#00bfbf", "opacity": 1}},
     {"data": {"name": "legsq"}, "transform": [{"filter": "datum.p=='11.5'"}], "mark": {"type": "point", "shape": "square", "filled": true, "size": 180, "color": "#00bfbf", "opacity": 1}},
     {"data": {"name": "leglab"}, "transform": [{"filter": "datum.p=='11.5'"}], "mark": {"type": "text", "align": "left", "baseline": "alphabetic", "fontSize": 24, "color": "black"}, "encoding": {"text": {"field": "t"}}}
    ]},
   {"width": 376, "height": 279,
    "encoding": {
     "x": {"field": "x", "type": "quantitative", "scale": {"domain": [-1, 1], "nice": false, "zero": false}, "axis": {"values": [-1, -0.5, 0, 0.5, 1], "format": ".1f", "tickSize": -6, "labelPadding": 14, "title": "y"}},
     "y": {"field": "y", "type": "quantitative", "scale": {"domain": [-0.3, 0.3], "nice": false, "zero": false}, "axis": {"values": [-0.2, 0, 0.2], "format": ".1f", "tickSize": -6, "labelPadding": 14, "title": "v₁", "titleFontStyle": "italic", "titleAngle": 270, "titleX": -83, "titleY": 42}}
    },
    "layer": [
     {"data": {"name": "curves"}, "transform": [{"filter": "datum.p=='3.8'"}], "mark": {"type": "line", "clip": true, "strokeWidth": 4.2}, "encoding": {"color": {"field": "s", "type": "nominal", "scale": {"domain": ["cascade","MF","1OPT","JAM","JAM/MF","JAM 1OPT"], "range": ["#008000","#0000ff","#ff0000","#008000","#0000ff","#ff0000"]}, "legend": null}, "strokeDash": {"field": "s", "type": "nominal", "scale": {"domain": ["cascade","MF","1OPT","JAM","JAM/MF","JAM 1OPT"], "range": [[4.2,6.9],[15.5,6.7],[1,0],[4,6.6],[9,4],[1,0]]}, "legend": null}}},
     {"data": {"name": "pts"}, "transform": [{"filter": "datum.p=='3.8'"}], "mark": {"type": "point", "shape": "square", "filled": true, "size": 180, "color": "#00bfbf", "opacity": 1}},
     {"data": {"name": "energy"}, "transform": [{"filter": "datum.p=='3.8'"}], "mark": {"type": "text", "text": "√", "align": "left", "baseline": "alphabetic", "fontSize": 26, "color": "black"}},
     {"data": {"name": "energy"}, "transform": [{"filter": "datum.p=='3.8'"}], "mark": {"type": "text", "text": "s", "fontStyle": "italic", "align": "left", "baseline": "alphabetic", "fontSize": 26, "dx": 20, "color": "black"}},
     {"data": {"name": "energy"}, "transform": [{"filter": "datum.p=='3.8'"}], "mark": {"type": "text", "text": "NN", "fontStyle": "italic", "align": "left", "baseline": "alphabetic", "fontSize": 19, "dx": 36, "dy": 3.5, "color": "black"}},
     {"data": {"name": "energy"}, "transform": [{"filter": "datum.p=='3.8'"}], "mark": {"type": "text", "text": "‾‾‾‾", "align": "left", "baseline": "alphabetic", "fontSize": 24, "dx": 18, "dy": -4, "color": "black"}},
     {"data": {"name": "energy"}, "transform": [{"filter": "datum.p=='3.8'"}], "mark": {"type": "text", "align": "left", "baseline": "alphabetic", "fontSize": 26, "dx": 71, "color": "black"}, "encoding": {"text": {"field": "t"}}}
    ]},
   {"width": 376, "height": 279,
    "encoding": {
     "x": {"field": "x", "type": "quantitative", "scale": {"domain": [-1, 1], "nice": false, "zero": false}, "axis": {"values": [-0.5, 0, 0.5, 1], "format": ".1f", "tickSize": -6, "labelPadding": 14, "title": "y"}},
     "y": {"field": "y", "type": "quantitative", "scale": {"domain": [-0.3, 0.3], "nice": false, "zero": false}, "axis": {"values": [-0.2, 0, 0.2], "labels": false, "tickSize": -6, "title": null}}
    },
    "layer": [
     {"data": {"name": "curves"}, "transform": [{"filter": "datum.p=='4.3'"}], "mark": {"type": "line", "clip": true, "strokeWidth": 4.2}, "encoding": {"color": {"field": "s", "type": "nominal", "scale": {"domain": ["cascade","MF","1OPT","JAM","JAM/MF","JAM 1OPT"], "range": ["#008000","#0000ff","#ff0000","#008000","#0000ff","#ff0000"]}, "legend": null}, "strokeDash": {"field": "s", "type": "nominal", "scale": {"domain": ["cascade","MF","1OPT","JAM","JAM/MF","JAM 1OPT"], "range": [[4.2,6.9],[15.5,6.7],[1,0],[4,6.6],[9,4],[1,0]]}, "legend": null}}},
     {"data": {"name": "pts"}, "transform": [{"filter": "datum.p=='4.3'"}], "mark": {"type": "point", "shape": "square", "filled": true, "size": 180, "color": "#00bfbf", "opacity": 1}},
     {"data": {"name": "energy"}, "transform": [{"filter": "datum.p=='4.3'"}], "mark": {"type": "text", "text": "√", "align": "left", "baseline": "alphabetic", "fontSize": 26, "color": "black"}},
     {"data": {"name": "energy"}, "transform": [{"filter": "datum.p=='4.3'"}], "mark": {"type": "text", "text": "s", "fontStyle": "italic", "align": "left", "baseline": "alphabetic", "fontSize": 26, "dx": 20, "color": "black"}},
     {"data": {"name": "energy"}, "transform": [{"filter": "datum.p=='4.3'"}], "mark": {"type": "text", "text": "NN", "fontStyle": "italic", "align": "left", "baseline": "alphabetic", "fontSize": 19, "dx": 36, "dy": 3.5, "color": "black"}},
     {"data": {"name": "energy"}, "transform": [{"filter": "datum.p=='4.3'"}], "mark": {"type": "text", "text": "‾‾‾‾", "align": "left", "baseline": "alphabetic", "fontSize": 24, "dx": 18, "dy": -4, "color": "black"}},
     {"data": {"name": "energy"}, "transform": [{"filter": "datum.p=='4.3'"}], "mark": {"type": "text", "align": "left", "baseline": "alphabetic", "fontSize": 26, "dx": 71, "color": "black"}, "encoding": {"text": {"field": "t"}}}
    ]},
   {"width": 149, "height": 279, "view": {"stroke": null}, "data": {"values": []}, "mark": "point"},
   {"width": 376, "height": 279,
    "encoding": {
     "x": {"field": "x", "type": "quantitative", "scale": {"domain": [-1, 1], "nice": false, "zero": false}, "axis": {"values": [-1, -0.5, 0, 0.5], "format": ".1f", "tickSize": -6, "labelPadding": 14, "title": "η", "titleFontStyle": "italic"}},
     "y": {"field": "y", "type": "quantitative", "scale": {"domain": [0, 0.07], "nice": false, "zero": false}, "axis": {"values": [0, 0.02, 0.04, 0.06], "format": ".2f", "tickSize": 6, "labelPadding": 10, "title": "v₂", "titleFontStyle": "italic", "titleAngle": 270, "titleX": -93, "titleY": 43}}
    },
    "layer": [
     {"data": {"name": "curves"}, "transform": [{"filter": "datum.p=='19.6'"}], "mark": {"type": "line", "clip": true}, "encoding": {"color": {"field": "s", "type": "nominal", "scale": {"domain": ["cascade","MF","1OPT","JAM","JAM/MF","JAM 1OPT"], "range": ["#008000","#0000ff","#ff0000","#008000","#0000ff","#ff0000"]}, "legend": null}, "strokeDash": {"field": "s", "type": "nominal", "scale": {"domain": ["cascade","MF","1OPT","JAM","JAM/MF","JAM 1OPT"], "range": [[4.2,6.9],[15.5,6.7],[1,0],[4,6.6],[9,4],[1,0]]}, "legend": null}, "strokeWidth": {"condition": {"test": "datum.s=='JAM/MF'", "value": 2.5}, "value": 4}}},
     {"data": {"name": "pts"}, "transform": [{"filter": "datum.p=='19.6'"}], "mark": {"type": "point", "shape": "square", "filled": true, "size": 180, "color": "#00bfbf", "opacity": 1}},
     {"data": {"name": "legsq"}, "transform": [{"filter": "datum.p=='19.6'"}], "mark": {"type": "tick", "orient": "vertical", "size": 22, "thickness": 2.5, "color": "#00bfbf", "opacity": 1}},
     {"data": {"name": "legsq"}, "transform": [{"filter": "datum.p=='19.6'"}], "mark": {"type": "point", "shape": "square", "filled": true, "size": 180, "color": "#00bfbf", "opacity": 1}},
     {"data": {"name": "leglab"}, "transform": [{"filter": "datum.p=='19.6'"}], "mark": {"type": "text", "align": "left", "baseline": "alphabetic", "fontSize": 24, "color": "black"}, "encoding": {"text": {"field": "t"}}}
    ]},
   {"width": 376, "height": 279,
    "encoding": {
     "x": {"field": "x", "type": "quantitative", "scale": {"domain": [-1, 1], "nice": false, "zero": false}, "axis": {"values": [-1, -0.5, 0, 0.5, 1], "format": ".1f", "tickSize": -6, "labelPadding": 14, "title": "η", "titleFontStyle": "italic"}},
     "y": {"field": "y", "type": "quantitative", "scale": {"domain": [0, 0.07], "nice": false, "zero": false}, "axis": {"values": [0, 0.02, 0.04, 0.06], "labels": false, "tickSize": 6, "title": null}}
    },
    "layer": [
     {"data": {"name": "curves"}, "transform": [{"filter": "datum.p=='27'"}], "mark": {"type": "line", "clip": true}, "encoding": {"color": {"field": "s", "type": "nominal", "scale": {"domain": ["cascade","MF","1OPT","JAM","JAM/MF","JAM 1OPT"], "range": ["#008000","#0000ff","#ff0000","#008000","#0000ff","#ff0000"]}, "legend": null}, "strokeDash": {"field": "s", "type": "nominal", "scale": {"domain": ["cascade","MF","1OPT","JAM","JAM/MF","JAM 1OPT"], "range": [[4.2,6.9],[15.5,6.7],[1,0],[4,6.6],[9,4],[1,0]]}, "legend": null}, "strokeWidth": {"condition": {"test": "datum.s=='JAM/MF'", "value": 2.5}, "value": 4}}},
     {"data": {"name": "pts"}, "transform": [{"filter": "datum.p=='27'"}], "mark": {"type": "point", "shape": "square", "filled": true, "size": 180, "color": "#00bfbf", "opacity": 1}},
     {"data": {"name": "legsq"}, "transform": [{"filter": "datum.p=='27'"}], "mark": {"type": "tick", "orient": "vertical", "size": 22, "thickness": 2.5, "color": "#00bfbf", "opacity": 1}},
     {"data": {"name": "legsq"}, "transform": [{"filter": "datum.p=='27'"}], "mark": {"type": "point", "shape": "square", "filled": true, "size": 180, "color": "#00bfbf", "opacity": 1}},
     {"data": {"name": "leglab"}, "transform": [{"filter": "datum.p=='27'"}], "mark": {"type": "text", "align": "left", "baseline": "alphabetic", "fontSize": 24, "color": "black"}, "encoding": {"text": {"field": "t"}}}
    ]}
]
}
